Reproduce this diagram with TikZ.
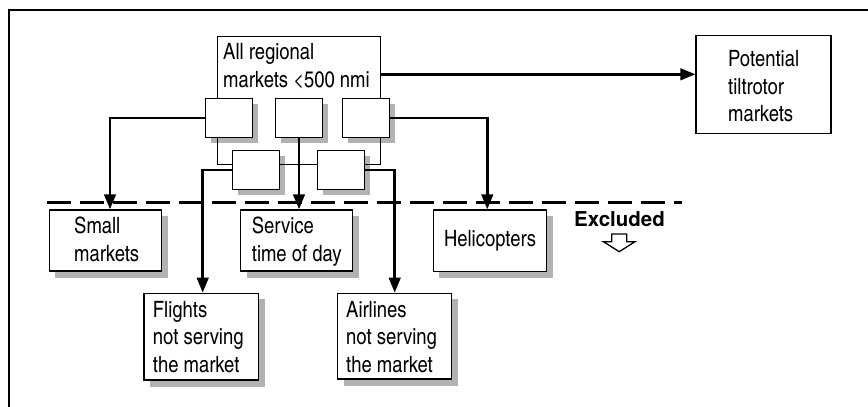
\documentclass[tikz,border=0pt]{standalone}
\usetikzlibrary{arrows.meta,calc}
\font\boxfont="[texgyreheroscn-regular.otf]" at 22.5pt
\font\exfont="[texgyreheros-bold.otf]" at 20.5pt
\tikzset{
  boxfontset/.style={font={\fontsize{22.5}{27.5}\selectfont\boxfont}},
  box/.style={draw, line width=1.3pt, fill=white, inner sep=0, boxfontset},
  sbox/.style={box, minimum width=46.5pt, minimum height=39pt},
  txt/.style={inner sep=0, align=left, anchor=north west, boxfontset},
  conn/.style={line width=2.7pt, -{Triangle[length=15pt,width=11.5pt]}},
  thinline/.style={line width=1pt},
  cutline/.style={line width=2.7pt, dash pattern=on 24pt off 9pt}
}
\begin{document}
\begin{tikzpicture}[x=1pt,y=-1pt]
\useasboundingbox (0,0) rectangle (868,407);
% frame
\draw[line width=1.2pt] (9,407) -- (9,10) -- (868,10);

% drop shadows (drawn first, boxes cover them)
\fill[black!30] (210.75,103.5) rectangle (257.9,143.1);
\fill[black!30] (280.75,103.5) rectangle (327.9,143.1);
\fill[black!30] (347.75,103.5) rectangle (394.9,143.1);
\fill[black!30] (237.75,155.5) rectangle (284.9,195.1);
\fill[black!30] (322.75,155.5) rectangle (369.9,195.1);
\fill[black!30] (55.3,216) rectangle (168.3,277.6);
\fill[black!30] (246.7,216) rectangle (359.3,277.6);
\fill[black!30] (439.3,216) rectangle (553.3,278.3);
\fill[black!30] (150.05,299.35) rectangle (265,386.7);
\fill[black!30] (343.7,299.35) rectangle (458.3,385.7);

% funnel boxes
\node[sbox] (A) at (229,118) {};
\node[sbox] (B) at (299,118) {};
\node[sbox] (C) at (366,118) {};
\node[sbox] (D) at (256,170) {};
\node[sbox] (E) at (341,170) {};

% result boxes
\node[box, minimum width=112.4pt, minimum height=61pt] (small) at (105.5,240.5) {};
\node[box, minimum width=112pt, minimum height=61pt] (service) at (296.7,240.5) {};
\node[box, minimum width=113.4pt, minimum height=61.7pt] (heli) at (490,240.8) {};
\node[box, minimum width=114.3pt, minimum height=86.7pt] (flights) at (201.2,336.7) {};
\node[box, minimum width=114pt, minimum height=85.7pt] (airlines) at (394.7,336.2) {};
\node[draw, line width=1.3pt, minimum width=135pt, minimum height=97.6pt, inner sep=0] (pot) at (763.5,84.5) {};

% top box outline
\coordinate (tl) at (217,36);
\coordinate (tr) at (380,36);
\coordinate (ml) at (217,164);
\coordinate (mr) at (380,164);
\coordinate (allR) at (380,74.3);
\draw[thinline] (tl |- A.north) -- (tl) -- (tr) -- (tr |- C.north);
\draw[thinline] (tl |- A.south) -- (ml) -- (ml -| D.west);
\draw[thinline] (ml -| D.east) -- (ml -| E.west);
\draw[thinline] (ml -| E.east) -- (mr) -- (tr |- C.south);

% texts
\node[txt] (allT) at (223,43.2) {All regional\\markets <500 nmi};
\node[txt] (smallT) at (74,217) {Small\\markets};
\node[txt] (serviceT) at (251.7,217) {Service\\time of day};
\node[boxfontset, inner sep=0] (heliT) at (heli) {Helicopters};
\node[txt] (flightsT) at (152.7,300.8) {Flights\\not serving\\the market};
\node[txt] (airlinesT) at (346,300.8) {Airlines\\not serving\\the market};
\node[txt] (potT) at (728,50.5) {Potential\\tiltrotor\\markets};

% excluded line
\coordinate (dl) at (46.7,202.3);
\coordinate (dr) at (681.7,202.3);
\draw[cutline] (dl) -- (dr);
\node[font=\exfont, inner sep=0, anchor=base] (excl) at (619.5,226.7) {Excluded};
\draw[line width=1.3pt, line join=miter] (611.7,234) -- (626.7,234) -- (626.7,241.7) -- (635,241.7)
  -- (619.2,251.7) -- (603.4,241.7) -- (611.7,241.7) -- cycle;

% connectors
\draw[conn] (A.west) -| ($(small.north)+(4.5,0)$);
\draw[conn] (D.west) -| ($(flights.north)+(1.5,0)$);
\draw[conn] (B.south) -- (B.south |- service.north);
\draw[conn] (E.east) -| (airlines.north);
\draw[conn] (C.east) -| ($(heli.north)+(-2.7,0)$);
\draw[conn] (allR) -- (allR -| pot.west);
\end{tikzpicture}
\end{document}
